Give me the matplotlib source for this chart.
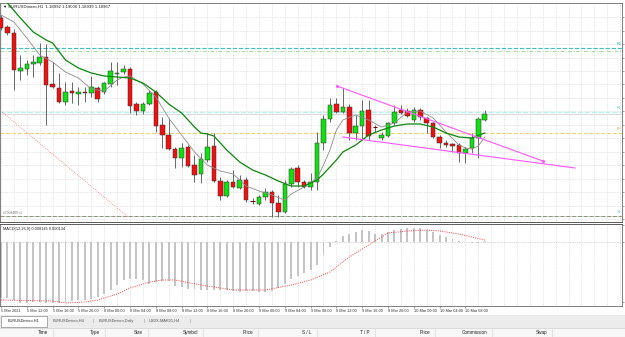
import numpy as np
import matplotlib.pyplot as plt
from matplotlib.patches import Rectangle

plt.rcParams['font.family'] = ['Liberation Sans', 'DejaVu Sans']

# --- EURUSDmicro H1 bars, 5 Mar 08:00 -> 10 Mar 11:00 ---
opens = [1.19543, 1.19489, 1.19453, 1.19225, 1.19237, 1.19267, 1.19273, 1.19309, 1.19147, 1.19123,
         1.19039, 1.19105, 1.19087, 1.19099, 1.19093, 1.19123, 1.19099, 1.19147, 1.19207, 1.19219,
         1.19237, 1.19027, 1.18985, 1.19027, 1.19099, 1.18901, 1.18841, 1.18757, 1.18703, 1.18769,
         1.18661, 1.18607, 1.18691, 1.18775, 1.18565, 1.18475, 1.18559, 1.18523, 1.18571, 1.18445,
         1.18427, 1.18469, 1.18499, 1.18433, 1.18379, 1.18547, 1.18643, 1.18559, 1.18529, 1.18559,
         1.18793, 1.18937, 1.19027, 1.18979, 1.19009, 1.18853, 1.18895, 1.18991, 1.18889, 1.18823,
         1.18835, 1.18913, 1.18991, 1.18985, 1.18931, 1.18991, 1.18943, 1.18913, 1.18829, 1.18793,
         1.18787, 1.18781, 1.18733, 1.18763, 1.18823, 1.18931]
highs = [1.19561, 1.19501, 1.19477, 1.19321, 1.19291, 1.19321, 1.19393, 1.19387, 1.19279, 1.19213,
         1.19159, 1.19159, 1.19129, 1.19129, 1.19195, 1.19135, 1.19159, 1.19279, 1.19279, 1.19261,
         1.19249, 1.19039, 1.19039, 1.19111, 1.19111, 1.18949, 1.18943, 1.18769, 1.18793, 1.18781,
         1.18721, 1.18733, 1.18853, 1.18853, 1.18589, 1.18571, 1.18631, 1.18601, 1.18589, 1.18463,
         1.18481, 1.18523, 1.18511, 1.18481, 1.18571, 1.18649, 1.18661, 1.18571, 1.18613, 1.18859,
         1.18961, 1.19063, 1.19063, 1.19123, 1.19027, 1.18961, 1.19051, 1.19051, 1.18901, 1.18859,
         1.18919, 1.19021, 1.19021, 1.19003, 1.19009, 1.19003, 1.18949, 1.18919, 1.18841, 1.18811,
         1.18793, 1.18793, 1.18769, 1.18853, 1.18949, 1.18991]
lows = [1.19471, 1.19441, 1.19111, 1.19171, 1.19201, 1.19189, 1.19261, 1.18901, 1.19123, 1.19033,
        1.19021, 1.19033, 1.19021, 1.19039, 1.19069, 1.19039, 1.19087, 1.19129, 1.19141, 1.19207,
        1.18973, 1.18961, 1.18967, 1.19021, 1.18859, 1.18763, 1.18751, 1.18643, 1.18649, 1.18649,
        1.18559, 1.18553, 1.18679, 1.18559, 1.18451, 1.18469, 1.18523, 1.18517, 1.18439, 1.18427,
        1.18421, 1.18451, 1.18349, 1.18349, 1.18373, 1.18529, 1.18529, 1.18523, 1.18511, 1.18511,
        1.18751, 1.18919, 1.18973, 1.18973, 1.18811, 1.18811, 1.18811, 1.18811, 1.18859, 1.18811,
        1.18829, 1.18901, 1.18970, 1.18949, 1.18919, 1.18931, 1.18853, 1.18823, 1.18763, 1.18769,
        1.18739, 1.18679, 1.18673, 1.18733, 1.18703, 1.18925]
closes = [1.19483, 1.19453, 1.19231, 1.19243, 1.19267, 1.19279, 1.19309, 1.19141, 1.19129, 1.19039,
          1.19099, 1.19093, 1.19099, 1.19093, 1.19129, 1.19057, 1.19153, 1.19225, 1.19213, 1.19237,
          1.19015, 1.18985, 1.19027, 1.19093, 1.18895, 1.18841, 1.18757, 1.18703, 1.18763, 1.18655,
          1.18601, 1.18697, 1.18769, 1.18565, 1.18475, 1.18559, 1.18529, 1.18571, 1.18451, 1.18445,
          1.18469, 1.18499, 1.18433, 1.18379, 1.18547, 1.18637, 1.18559, 1.18529, 1.18559, 1.18793,
          1.18937, 1.19021, 1.18979, 1.19009, 1.18853, 1.18895, 1.18985, 1.18835, 1.18886, 1.18841,
          1.18913, 1.18979, 1.18973, 1.18955, 1.18991, 1.18949, 1.18913, 1.18829, 1.18793, 1.18781,
          1.18775, 1.18733, 1.18757, 1.18823, 1.18937, 1.18967]

# moving averages (bar index, price)
ma_fast_idx = [0, 2, 4, 6, 8, 10, 12, 14, 16, 18, 19, 20, 22, 24, 26, 28, 30, 32, 34, 36, 38, 40,
               42, 44, 45, 47, 49, 50, 51, 52, 53, 55, 57, 59, 61, 63, 65, 67, 69, 71, 72, 73, 74, 75]
ma_fast = [1.19561, 1.19519, 1.19423, 1.19321, 1.19279, 1.19219, 1.19183, 1.19117, 1.19105, 1.19171,
           1.19189, 1.19195, 1.19147, 1.19069, 1.18943, 1.18841, 1.18739, 1.18661, 1.18625, 1.18607,
           1.18535, 1.18505, 1.18481, 1.18451, 1.18487, 1.18529, 1.18583, 1.18661, 1.18751, 1.18871,
           1.18931, 1.18961, 1.18931, 1.18889, 1.18913, 1.18979, 1.18985, 1.18943, 1.18859, 1.18781,
           1.18763, 1.18757, 1.18775, 1.18829]
ma_slow_idx = [0, 1, 3, 5, 7, 8, 10, 12, 14, 16, 18, 20, 22, 24, 26, 28, 30, 31, 32, 33, 35, 37,
               39, 41, 43, 45, 47, 49, 50, 51, 52, 53, 55, 57, 59, 61, 63, 65, 67, 69, 71, 73, 75]
ma_slow = [1.19669, 1.19633, 1.19543, 1.19459, 1.19411, 1.19393, 1.19291, 1.19243, 1.19213, 1.19195,
           1.19189, 1.19183, 1.19153, 1.19099, 1.19027, 1.18973, 1.18889, 1.18853, 1.18847, 1.18835,
           1.18751, 1.18679, 1.18631, 1.18601, 1.18565, 1.18535, 1.18535, 1.18571, 1.18607, 1.18649,
           1.18691, 1.18739, 1.18781, 1.18841, 1.18871, 1.18895, 1.18907, 1.18907, 1.18889, 1.18853,
           1.18829, 1.18823, 1.18853]

# drawn objects
tri_upper_idx = [52.1, 84.0]
tri_upper = [1.19135, 1.18685]
tri_lower_idx = [53.0, 89.0]
tri_lower = [1.18829, 1.18643]
order_line_idx = [0.16, 19.7]
order_line = [1.18979, 1.18349]
level_r2 = 1.19363
level_r2b = 1.19345
level_r1 = 1.18979
bid = 1.18967
level_pp = 1.18853
level_s1 = 1.18355

# MACD(12,26,9)
macd_hist = [-0.00168, -0.00168, -0.00174, -0.00183, -0.00183, -0.00180, -0.00180, -0.00183, -0.00183, -0.00183,
             -0.00180, -0.00177, -0.00174, -0.00174, -0.00171, -0.00165, -0.00156, -0.00144, -0.00129, -0.00114,
             -0.00111, -0.00111, -0.00114, -0.00126, -0.00120, -0.00117, -0.00117, -0.00132, -0.00135, -0.00141,
             -0.00141, -0.00144, -0.00144, -0.00144, -0.00144, -0.00144, -0.00147, -0.00150, -0.00147, -0.00147,
             -0.00150, -0.00150, -0.00147, -0.00138, -0.00126, -0.00111, -0.00102, -0.00093, -0.00084, -0.00069,
             -0.00039, -0.00015, 0.00002, 0.00018, 0.00024, 0.00030, 0.00036, 0.00033, 0.00024, 0.00024,
             0.00030, 0.00036, 0.00039, 0.00042, 0.00042, 0.00042, 0.00036, 0.00030, 0.00021, 0.00015,
             0.00009, 0.00002, -0.00001, -0.00003, -0.00003, 0.00003]
signal_idx = [0, 8, 10, 13, 15, 18, 20, 23, 25, 27, 31, 36, 41, 45, 48, 51, 54, 57, 60, 63, 66, 68, 71, 75]
signal = [-0.00174, -0.00177, -0.00183, -0.00180, -0.00174, -0.00156, -0.00138, -0.00120, -0.00114, -0.00114,
          -0.00129, -0.00144, -0.00144, -0.00129, -0.00114, -0.00090, -0.00045, -0.00009, 0.00027, 0.00033,
          0.00036, 0.00033, 0.00024, 0.00006]

time_tick_idx = list(range(0, 73, 4))
time_tick_labels = ["5 Mar 2021", "5 Mar 12:00", "5 Mar 16:00", "5 Mar 20:00", "8 Mar 00:00",
                    "8 Mar 04:00", "8 Mar 08:00", "8 Mar 12:00", "8 Mar 16:00", "8 Mar 20:00",
                    "9 Mar 00:00", "9 Mar 04:00", "9 Mar 08:00", "9 Mar 12:00", "9 Mar 16:00",
                    "9 Mar 20:00", "10 Mar 00:00", "10 Mar 04:00", "10 Mar 08:00"]

tab_names = ["EURUSDmicro,H1", "EURUSDmicro,H4", "EURUSDmicro,Daily", "USDX-MAR21,H4"]
col_names = ["Time", "Type", "Size", "Symbol", "Price", "S / L", "T / P", "Price", "Commission", "Swap"]

W, H = 625, 337
fig = plt.figure(figsize=(W / 100, H / 100), dpi=100)
fig.patch.set_facecolor('white')


def box(x0, y0, x1, y1):
    # pixel box measured from the top-left -> figure rect
    return [x0 / W, 1 - y1 / H, (x1 - x0) / W, (y1 - y0) / H]


ax = fig.add_axes(box(0, 3, 622, 222))
axm = fig.add_axes(box(0, 224, 622, 306))
xlim = (-0.155, 96.28)

o = np.array(opens)
c = np.array(closes)
hi = np.array(highs)
lo = np.array(lows)
idx = np.arange(len(o))
body_lo = np.minimum(o, c)
body_h = np.abs(c - o)
doji = body_h < 0.00004
up = (c > o) & ~doji
down = (c < o) & ~doji

# grid
grid_style = dict(color='#cfcfcf', lw=0.5, ls=(0, (1, 1.5)), zorder=0)
for gx in np.arange(0, 97, 2):
    ax.axvline(gx, **grid_style)
    axm.axvline(gx, **grid_style)
price_grid = np.arange(1.19549, 1.1832, -0.00081)
for gy in price_grid:
    ax.axhline(gy, **grid_style)

# levels
ax.axhline(level_r2, color='#40c0c0', lw=0.8, ls=(0, (4, 1.5)), zorder=1)
ax.axhline(level_r2b, color='#a8d8a8', lw=0.7, ls=(0, (4, 1.5, 1, 1.5)), zorder=1)
ax.axhline(level_r1, color='#b8f0f0', lw=0.9, ls=(0, (4, 1.5)), zorder=1)
ax.axhline(bid, color='#d8d8d8', lw=0.7, zorder=1)
ax.axhline(level_pp, color='#f0d060', lw=0.7, ls=(0, (4, 2)), zorder=1)
ax.axhline(level_s1, color='#a8e8e8', lw=0.7, zorder=1)
ax.axhline(level_s1, color='#a08c70', lw=0.7, ls=(0, (4, 2)), zorder=1)
ax.plot(order_line_idx, order_line, color='#ff7070', lw=0.6, ls=(0, (1, 1.5)), zorder=1)

# candles
ax.vlines(idx, lo, hi, color='#505050', lw=0.6, zorder=3)
ax.bar(idx[up], body_h[up], bottom=body_lo[up], width=0.7, color='#10e010',
       edgecolor='#303030', linewidth=0.35, zorder=4)
ax.bar(idx[down], body_h[down], bottom=body_lo[down], width=0.7, color='#f01010',
       edgecolor='#303030', linewidth=0.35, zorder=4)
ax.hlines(o[doji], idx[doji] - 0.35, idx[doji] + 0.35, color='#7a0000', lw=0.8, zorder=4)

# moving averages
ax.plot(ma_fast_idx, ma_fast, color='#8c8c8c', lw=0.6, zorder=5)
ax.plot(ma_slow_idx, ma_slow, color='#0a880a', lw=0.9, zorder=5)

# triangle
ax.plot(tri_upper_idx, tri_upper, color='#ff55ff', lw=0.8, marker='o', ms=1.2, zorder=6)
ax.plot(tri_lower_idx, tri_lower, color='#ff55ff', lw=0.8, zorder=6)

ax.set_xlim(*xlim)
ax.set_ylim(1.18319, 1.19633)

# MACD window
axm.axhline(0, color='#b0b0b0', lw=0.5, ls=(0, (1, 1.5)), zorder=1)
axm.bar(idx, macd_hist, width=0.3, color='#c4c4c4', zorder=2)
axm.plot(signal_idx, signal, color='#ff4040', lw=0.7, ls=(0, (1, 1.3)), zorder=3)
axm.set_xlim(*xlim)
axm.set_ylim(-0.00192, 0.00054)

for a in (ax, axm):
    for s in a.spines.values():
        s.set_color('#6a6a6a')
        s.set_linewidth(0.6)
    a.set_facecolor('white')
    a.yaxis.tick_right()
    a.tick_params(axis='y', length=1.5, width=0.4, color='#606060', labelright=False)
ax.set_yticks(price_grid)
ax.tick_params(axis='x', bottom=False, labelbottom=False)
ax.spines['bottom'].set_color('#404040')
axm.spines['top'].set_color('#404040')
axm.set_yticks([0.0005, 0.0, -0.0018])

axm.set_xticks(time_tick_idx)
axm.set_xticklabels(time_tick_labels)
axm.tick_params(axis='x', length=1.5, width=0.4, color='#606060', pad=1.0,
                labelsize=2.8, labelcolor='#303030')
for t in axm.get_xticklabels():
    t.set_ha('left')

# window texts
fig.text(3 / W, 1 - 7 / H, "\u25bc EURUSDmicro,H1  1.18992 1.19006 1.18939 1.18967",
         fontsize=3.1, color='#202020', va='center')
fig.text(3 / W, 1 - 229 / H, "MACD(12,26,9) 0.000145 0.000134", fontsize=2.8, color='#202020', va='center')
fig.text(3 / W, 1 - 213.5 / H, "#7008409 sl", fontsize=2.4, color='#707070', va='center')
for lvl, name, col in [(level_r2, "R2", '#30b0b0'), (level_r1, "R1", '#60d0d0'),
                       (level_pp, "PP", '#d8b040'), (level_s1, "S1", '#60d0d0')]:
    ax.annotate(name, xy=(1.0, lvl), xycoords=('axes fraction', 'data'), xytext=(-4, 1.5),
                textcoords='offset points', fontsize=2.6, color=col, ha='left', va='bottom',
                annotation_clip=False)

# tab bar and terminal header
ui = fig.add_axes(box(0, 314, W, H))
ui.set_xlim(0, W)
ui.set_ylim(H, 314)
ui.axis('off')
ui.add_patch(Rectangle((0, 315), W, 12.5, fc='#ececec', ec='none'))
ui.add_patch(Rectangle((1, 315.5), 46, 11, fc='white', ec='#8a8a8a', lw=0.5))
tab_x = [24, 53, 99, 149]
ui.text(tab_x[0], 321, tab_names[0], fontsize=2.8, color='#202020', ha='center', va='center')
for tx, name in zip(tab_x[1:], tab_names[1:]):
    ui.text(tx, 321, name, fontsize=2.8, color='#505050', ha='left', va='center')
for sx in [93, 144, 190]:
    ui.text(sx, 321, "|", fontsize=2.8, color='#808080', ha='center', va='center')
ui.add_patch(Rectangle((0, 328), W, 9, fc='#f7f7f7', ec='none'))
ui.plot([0, W], [328, 328], color='#d0d0d0', lw=0.5)
col_sep = [53, 105, 148, 203, 258, 317, 375, 435, 492, 552]
for sx, name in zip(col_sep, col_names):
    ui.plot([sx, sx], [328.5, 337], color='#d8d8d8', lw=0.5)
    ui.text(sx - 5, 332.5, name, fontsize=3.3, color='#202020', ha='right', va='center')

fig.savefig('out.png', dpi=100, facecolor='white')
